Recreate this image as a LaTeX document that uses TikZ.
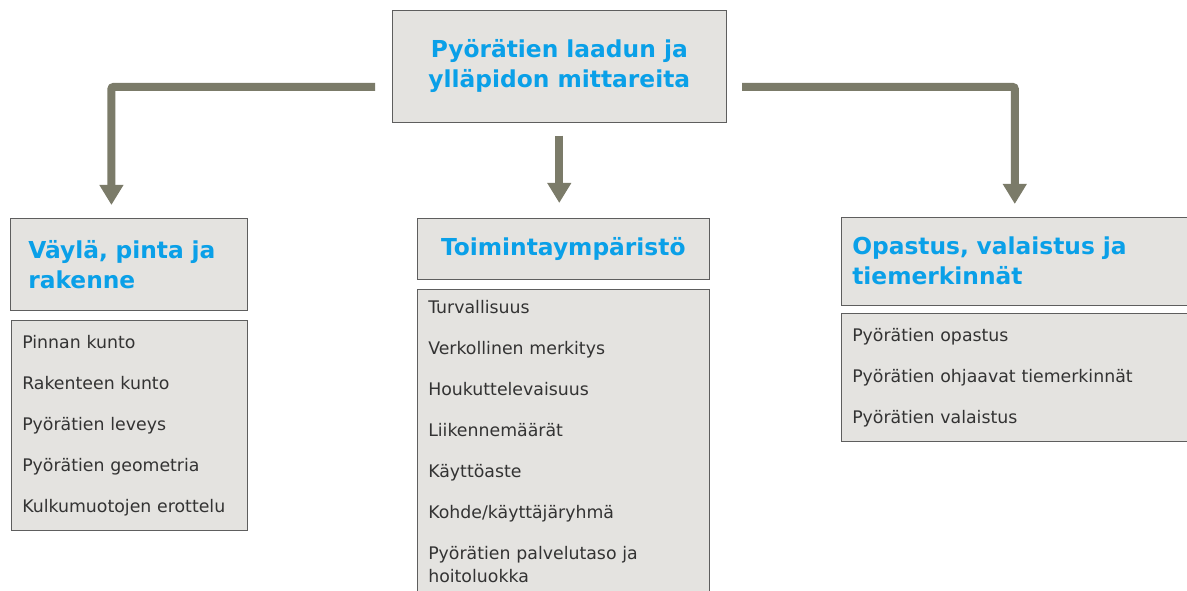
\documentclass[tikz,border=0pt]{standalone}
\usepackage{fontspec}
\setmainfont{DejaVu Sans}
\usetikzlibrary{arrows.meta, positioning}
\definecolor{boxfill}{HTML}{E4E3E0}
\definecolor{boxline}{HTML}{5E5E5E}
\definecolor{arrowgray}{HTML}{7B7B69}
\definecolor{hdrblue}{HTML}{0AA0E8}
\definecolor{txtgray}{HTML}{333333}
\newcommand\hdrfont{\bfseries\fontsize{17.5pt}{22.5pt}\selectfont}
\newcommand\lstfont{\fontsize{13pt}{17.25pt}\selectfont}

\begin{document}
\begin{tikzpicture}[
	x=0.75pt, y=-0.75pt,
	hdr/.style = {draw=boxline, fill=boxfill, anchor=north west, font=\hdrfont,
		text=hdrblue, align=left, inner xsep=13.5pt},
	lst/.style = {draw=boxline, fill=boxfill, anchor=north west, font=\lstfont,
		text=txtgray, align=left, inner xsep=8.25pt},
	conn/.style = {line width=6pt, draw=arrowgray, rounded corners=1.5pt,
		-{Triangle[width=17pt,length=15pt]}}
	]
	\useasboundingbox (0,0) rectangle (1187,591);
	\clip (0,0) rectangle (1187,591);
%
	\node[hdr, align=center, minimum width=250.5pt, minimum height=84pt] (top) at (392,10)
		{Pyörätien laadun ja\\ylläpidon mittareita};
%
	\node[hdr, minimum width=177.75pt, minimum height=69pt, text width=150.75pt] (hdrL) at (10,218)
		{Väylä, pinta ja\\rakenne};
	\node[hdr, align=center, minimum width=219pt, minimum height=45.75pt] (hdrM) at (417,218)
		{Toimintaympäristö};
	\node[hdr, inner xsep=8.25pt, minimum width=260.25pt, minimum height=66pt, text width=243.75pt] (hdrR) at (841,217)
		{Opastus, valaistus ja\\tiemerkinnät};
%
	\node[lst, minimum width=177pt, minimum height=157.5pt, text width=160.5pt] (lstL) at (11,320)
		{Pinnan kunto\\[13.5pt]Rakenteen kunto\\[13.5pt]Pyörätien leveys\\[13.5pt]%
		Pyörätien geometria\\[13.5pt]Kulkumuotojen erottelu};
	\node[lst, minimum width=219pt, minimum height=228.75pt, text width=202.5pt] (lstM) at (417,289)
		{Turvallisuus\\[13.5pt]Verkollinen merkitys\\[13.5pt]Houkuttelevaisuus\\[13.5pt]%
		Liikennemäärät\\[13.5pt]Käyttöaste\\[13.5pt]Kohde/käyttäjäryhmä\\[13.5pt]%
		Pyörätien palvelutaso ja\\hoitoluokka};
	\node[lst, minimum width=260.25pt, minimum height=96pt, text width=243.75pt] (lstR) at (841,313)
		{Pyörätien opastus\\[13.5pt]Pyörätien ohjaavat tiemerkinnät\\[13.5pt]Pyörätien valaistus};
%
	\coordinate (kL) at (375,87);
	\coordinate (kR) at (742,87);
	\draw[conn, shorten >=9.75pt] (kL) -| ([xshift=-13pt]hdrL.north);
	\draw[conn, shorten >=9.75pt] (kR) -| (hdrR.north);
	\draw[conn, shorten <=9.75pt, shorten >=11.25pt] (top.south) -- (top.south |- hdrM.north);
\end{tikzpicture}
\end{document}
